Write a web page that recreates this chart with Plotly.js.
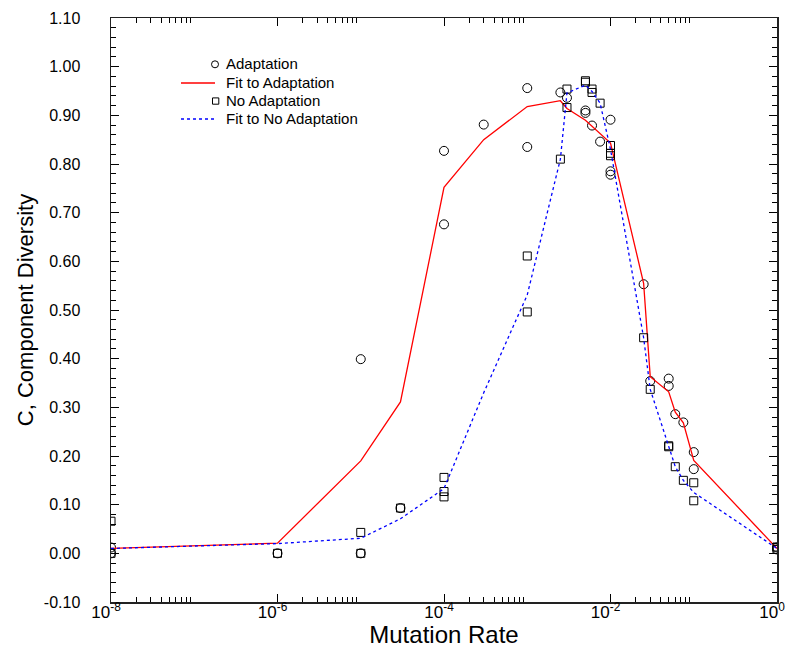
<!DOCTYPE html>
<html>
<head>
<meta charset="utf-8">
<script src="https://cdn.plot.ly/plotly-3.0.1.min.js"></script>
<style>html,body{margin:0;padding:0;background:#fff;}#chart{width:788px;height:648px;}</style>
</head>
<body>
<div id="chart"></div>
<script>
// Adaptation (open circles)
const adaptX = [1e-8, 1e-8, 1e-6, 1e-5, 1e-5, 3e-5, 1e-4, 1e-4, 3e-4, 1e-3, 1e-3, 2.5e-3, 3e-3, 5e-3, 5e-3, 6e-3, 7.5e-3, 1e-2, 1e-2, 1e-2, 2.5e-2, 3e-2, 5e-2, 5e-2, 6e-2, 7.5e-2, 0.1, 0.1, 1, 1];
const adaptY = [0.012, 0.0, 0.0, 0.399, 0.0, 0.093, 0.827, 0.676, 0.881, 0.956, 0.835, 0.947, 0.936, 0.910, 0.905, 0.879, 0.846, 0.891, 0.785, 0.778, 0.553, 0.354, 0.359, 0.344, 0.286, 0.269, 0.208, 0.173, 0.012, 0.008];

// No Adaptation (open squares)
const noAdaptX = [1e-8, 1e-8, 1e-6, 1e-5, 1e-5, 3e-5, 1e-4, 1e-4, 1e-4, 1e-3, 1e-3, 2.5e-3, 3e-3, 3e-3, 5e-3, 5e-3, 6e-3, 6e-3, 7.5e-3, 1e-2, 1e-2, 1e-2, 2.5e-2, 3e-2, 5e-2, 5e-2, 6e-2, 7.5e-2, 0.1, 0.1, 1, 1];
const noAdaptY = [0.066, 0.0, 0.0, 0.043, 0.0, 0.093, 0.156, 0.127, 0.116, 0.611, 0.496, 0.810, 0.954, 0.916, 0.971, 0.968, 0.954, 0.947, 0.925, 0.838, 0.822, 0.817, 0.443, 0.337, 0.221, 0.219, 0.178, 0.150, 0.145, 0.108, 0.013, 0.008];

// Fit to Adaptation (red solid)
const fitAX = [1e-8, 1e-6, 1e-5, 3e-5, 1e-4, 3e-4, 1e-3, 2.5e-3, 3e-3, 5e-3, 1e-2, 2.5e-2, 3e-2, 5e-2, 6e-2, 7.5e-2, 0.1, 1];
const fitAY = [0.010, 0.021, 0.190, 0.311, 0.752, 0.850, 0.918, 0.930, 0.914, 0.890, 0.843, 0.555, 0.363, 0.332, 0.290, 0.268, 0.191, 0.010];

// Fit to No Adaptation (blue dotted)
const fitNX = [1e-8, 1e-6, 1e-5, 3e-5, 1e-4, 3e-4, 1e-3, 2.5e-3, 3e-3, 5e-3, 6e-3, 7.5e-3, 1e-2, 2.5e-2, 3e-2, 5e-2, 6e-2, 7.5e-2, 0.1, 1];
const fitNY = [0.010, 0.020, 0.031, 0.071, 0.133, 0.330, 0.531, 0.810, 0.946, 0.962, 0.949, 0.925, 0.830, 0.443, 0.337, 0.221, 0.178, 0.150, 0.125, 0.010];

// Series names (legend)
const seriesNames = ['Adaptation', 'Fit to Adaptation', 'No Adaptation', 'Fit to No Adaptation'];

// Tick labels
const xTickVals = [1e-8, 1e-6, 1e-4, 1e-2, 1];
const xTickText = ['10<sup>-8</sup>', '10<sup>-6</sup>', '10<sup>-4</sup>', '10<sup>-2</sup>', '10<sup>0</sup>'];
const yTickVals = [-0.1, 0.0, 0.1, 0.2, 0.3, 0.4, 0.5, 0.6, 0.7, 0.8, 0.9, 1.0, 1.1];
const yTickText = ['-0.10', '0.00', '0.10', '0.20', '0.30', '0.40', '0.50', '0.60', '0.70', '0.80', '0.90', '1.00', '1.10'];

const xMinor = [];
[-8, -6, -4, -2].forEach(function (e) {
  for (let k = 2; k <= 9; k++) xMinor.push(k * Math.pow(10, e));
});

const FONT = 'Liberation Sans, Arial, sans-serif';
const RED = '#ff0000', BLUE = '#0000ff';

// plot area in pixels (for placing the hand-drawn legend box in paper coordinates)
const PL = 111, PW = 666, PT = 18, PH = 584;
const px = function (p) { return (p - PL) / PW; };
const py = function (p) { return (PT + PH - p) / PH; };

const traces = [
  {x: adaptX, y: adaptY, mode: 'markers', type: 'scatter', name: seriesNames[0],
   marker: {symbol: 'circle-open', size: 9, color: '#000', line: {width: 1, color: '#000'}}},
  {x: fitAX, y: fitAY, mode: 'lines', type: 'scatter', name: seriesNames[1],
   line: {color: RED, width: 1.3}},
  {x: noAdaptX, y: noAdaptY, mode: 'markers', type: 'scatter', name: seriesNames[2],
   marker: {symbol: 'square-open', size: 8, color: '#000', line: {width: 1, color: '#000'}}},
  {x: fitNX, y: fitNY, mode: 'lines', type: 'scatter', name: seriesNames[3],
   line: {color: BLUE, width: 1.3, dash: 'dot'}}
];

// legend drawn as shapes + annotations
const rowY = [64, 83, 101, 119];
const shapes = [
  {type: 'circle', xref: 'paper', yref: 'paper', x0: px(211.5), x1: px(218.5), y0: py(67.8), y1: py(60.8), line: {color: '#000', width: 1}},
  {type: 'line', xref: 'paper', yref: 'paper', x0: px(181), x1: px(215), y0: py(rowY[1]), y1: py(rowY[1]), line: {color: RED, width: 1.3}},
  {type: 'rect', xref: 'paper', yref: 'paper', x0: px(212.5), x1: px(218.8), y0: py(104.2), y1: py(97.9), line: {color: '#000', width: 1}},
  {type: 'line', xref: 'paper', yref: 'paper', x0: px(181), x1: px(214), y0: py(rowY[3]), y1: py(rowY[3]), line: {color: BLUE, width: 1.3, dash: 'dot'}}
];
const annotations = seriesNames.map(function (n, i) {
  return {text: n, xref: 'paper', yref: 'paper', x: px(224), y: py(rowY[i]), xanchor: 'left', yanchor: 'middle',
          showarrow: false, font: {family: FONT, size: 15, color: '#000'}};
});

const layout = {
  width: 788, height: 648,
  margin: {l: 111, r: 11, t: 18, b: 46},
  paper_bgcolor: '#fff', plot_bgcolor: '#fff',
  font: {family: FONT, color: '#000'},
  showlegend: false,
  shapes: shapes,
  annotations: annotations,
  xaxis: {
    type: 'log', range: [-8, 0],
    tickmode: 'array', tickvals: xTickVals, ticktext: xTickText,
    ticks: 'inside', ticklen: 8, tickwidth: 1, tickcolor: '#000',
    showline: true, linecolor: '#222', linewidth: 1.5, mirror: 'ticks',
    showgrid: false, zeroline: false,
    ticklabeloverflow: 'allow',
    ticklabelstandoff: -6,
    ticklabelshift: -5,
    tickfont: {family: FONT, size: 17, color: '#000'},
    minor: {tickmode: 'array', tickvals: xMinor, ticks: 'inside', ticklen: 5, tickwidth: 1, tickcolor: '#000', showgrid: false},
    title: {text: 'Mutation Rate', font: {family: FONT, size: 24, color: '#000'}, standoff: 4}
  },
  yaxis: {
    range: [-0.1, 1.1],
    tickmode: 'array', tickvals: yTickVals, ticktext: yTickText,
    ticks: 'inside', ticklen: 8, tickwidth: 1, tickcolor: '#000',
    showline: true, linecolor: '#222', linewidth: 1.5, mirror: 'ticks',
    showgrid: false, zeroline: false,
    ticklabelstandoff: 26,
    tickfont: {family: FONT, size: 16, color: '#000'},
    minor: {dtick: 0.02, ticks: 'inside', ticklen: 5, tickwidth: 1, tickcolor: '#000', showgrid: false},
    title: {text: 'C, Component Diversity', font: {family: FONT, size: 22, color: '#000'}, standoff: 4}
  }
};

Plotly.newPlot('chart', traces, layout, {displayModeBar: false, staticPlot: true});
</script>
</body>
</html>
